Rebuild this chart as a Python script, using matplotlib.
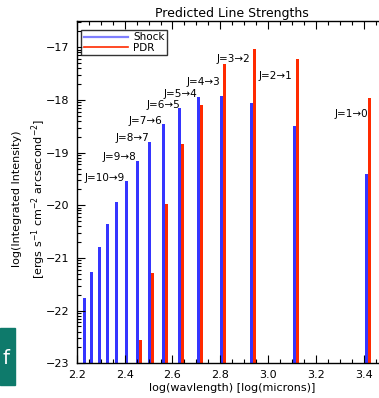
import numpy as np
import matplotlib
matplotlib.use('Agg')
import matplotlib.pyplot as plt
from matplotlib.lines import Line2D
from matplotlib.patches import Rectangle
from matplotlib.ticker import FixedLocator, MultipleLocator

# CO rotational lines, J=1->0 up to J=15->14
transitions = ['J=1\u21920', 'J=2\u21921', 'J=3\u21922', 'J=4\u21923', 'J=5\u21924',
               'J=6\u21925', 'J=7\u21926', 'J=8\u21927', 'J=9\u21928', 'J=10\u21929',
               '', '', '', '', '']
log_wave = [3.415, 3.114, 2.938, 2.813, 2.716, 2.637, 2.570, 2.512, 2.461, 2.415,
            2.374, 2.336, 2.302, 2.270, 2.240]
shock = [-19.41, -18.49, -18.06, -17.92, -17.94, -18.15, -18.45, -18.79, -19.15, -19.53,
         -19.93, -20.36, -20.80, -21.27, -21.76]
pdr = [-17.96, -17.22, -17.03, -17.31, -18.09, -18.83, -19.98, -21.29, -22.56, np.nan,
       np.nan, np.nan, np.nan, np.nan, np.nan]

# where each line label sits (right edge x, centre y)
label_x = [3.416, 3.099, 2.924, 2.799, 2.702, 2.631, 2.556, 2.502, 2.448, 2.402]
label_y = [-18.27, -17.54, -17.22, -17.65, -17.88, -18.09, -18.39, -18.73, -19.09, -19.48]

BLUE = '#3535ff'
RED = '#ff2a00'
YMIN, YMAX = -23.0, -16.5

W, H = 379, 398
fig = plt.figure(figsize=(W / 100, H / 100), dpi=100)
plt.rcParams['font.family'] = 'DejaVu Sans'

x0, x1 = 76.7, 388.0
y0, y1 = 21.0, 363.3
ax = fig.add_axes([x0 / W, 1 - y1 / H, (x1 - x0) / W, (y1 - y0) / H])

lw = np.array(log_wave)
bw = 0.0125
ax.bar(lw - bw / 2, np.array(shock) - YMIN, bottom=YMIN, width=bw, color=BLUE, linewidth=0)
ax.bar(lw + bw / 2, np.array(pdr) - YMIN, bottom=YMIN, width=bw, color=RED, linewidth=0)

for t, lx, ly in zip(transitions, label_x, label_y):
    ax.text(lx, ly, t, ha='right', va='center', fontsize=7.5)

ax.set_xlim(2.2, 3.5)
ax.set_ylim(YMIN, YMAX)

ax.xaxis.set_minor_locator(MultipleLocator(0.05))
ax.set_xticks([2.2, 2.4, 2.6, 2.8, 3.0, 3.2, 3.4])
ax.set_xticklabels(['2.2', '2.4', '2.6', '2.8', '3.0', '3.2', '3.4'])
ax.set_yticks([-23, -22, -21, -20, -19, -18, -17])
minor_y = [n + np.log10(k) for n in range(-23, -16) for k in range(2, 10)]
ax.yaxis.set_minor_locator(FixedLocator(minor_y))

ax.tick_params(which='both', direction='in', top=True, right=False, labelsize=8,
               width=0.8, pad=5)
ax.tick_params(which='major', length=6)
ax.tick_params(which='minor', length=3)
for side in ['left', 'bottom', 'top']:
    ax.spines[side].set_linewidth(1.0)
ax.spines['right'].set_visible(False)

ax.set_title('Predicted Line Strengths', fontsize=9, pad=3)
ax.set_xlabel('log(wavlength) [log(microns)]', fontsize=8, labelpad=2)
ax.set_ylabel('log(Integrated Intensity)\n'
              '[ergs s$^{-1}$ cm$^{-2}$ arcsecond$^{-2}$]', fontsize=8,
              linespacing=1.6)
ax.yaxis.set_label_coords(-0.092, 0.48)

handles = [Line2D([], [], color='#8080ff', lw=1.6), Line2D([], [], color=RED, lw=1.2)]
leg = ax.legend(handles, ['Shock', 'PDR'], loc='upper left', bbox_to_anchor=(0.015, 0.975),
                fontsize=7.5, frameon=True, fancybox=False, handlelength=4.2,
                borderpad=0.25, labelspacing=0.05, handletextpad=0.5, borderaxespad=0)
leg.get_frame().set_edgecolor('black')
leg.get_frame().set_linewidth(1.0)

# teal tab on the left edge
fig.patches.append(Rectangle((0, 1 - 385 / H), 15 / W, 57 / H, transform=fig.transFigure,
                             color='#0e7a6b', zorder=5))
fig.text(6 / W, 1 - 358 / H, 'f', color='white', fontsize=14, ha='center', va='center',
         zorder=6)

fig.savefig('out.png', dpi=100)
